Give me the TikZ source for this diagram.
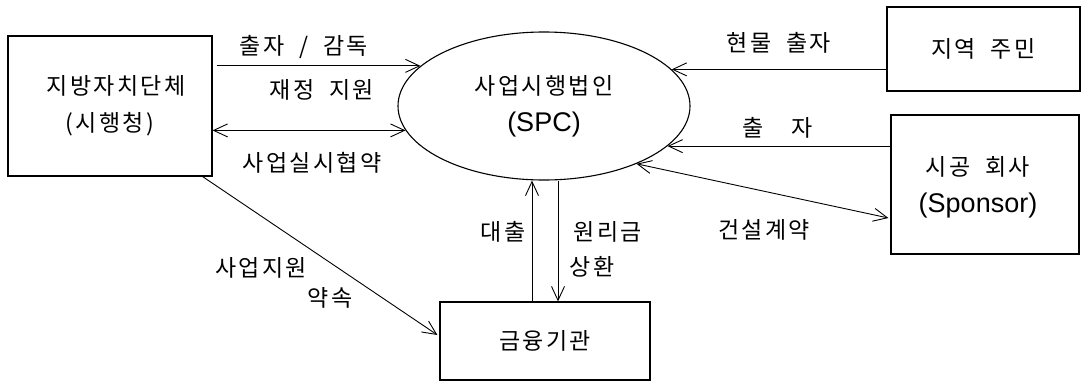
\documentclass[tikz,border=0pt]{standalone}
\usepackage{fontspec}
\setmainfont{Noto Sans CJK KR}[LetterSpace=10,WordSpace=2]
\newfontfamily\latf{Liberation Sans}
\usetikzlibrary{arrows.meta,shapes.geometric}
\newcommand\kf{\fontsize{23pt}{37pt}\selectfont}
\newcommand\lf{\latf\fontsize{27pt}{37pt}\selectfont}
\tikzset{
  box/.style={draw, line width=1.1pt, inner sep=0pt, align=center, font=\kf},
  ell/.style={draw, ellipse, line width=1.1pt, inner sep=0pt, align=center, font=\kf},
  lbl/.style={inner sep=0pt, font=\kf},
  tip/.tip={Straight Barb[length=14pt,width=13pt,line width=0.9pt]},
  arr/.style={line width=0.9pt, -tip},
  darr/.style={line width=0.9pt, tip-tip},
}
\begin{document}
\begin{tikzpicture}[x=1pt,y=-1pt]
\useasboundingbox (0,0) rectangle (1082,383);
% nodes
\node[box, minimum width=204pt, minimum height=140pt] (L) at (110,106) {\hspace*{12pt}지방자치단체\\(시행청)};
\node[ell, minimum width=292pt, minimum height=148pt] (S) at (544,106) {사업시행법인\\{\lf (SPC)}};
\node[box, minimum width=193pt, minimum height=84pt] (R) at (983.5,49) {지역 주민};
\node[box, minimum width=188pt, minimum height=139pt, text depth=0pt] (C) at (985,184.5) {시공 회사\hspace*{14pt}\\{\lf (Sponsor)}\hspace*{14pt}};
\node[box, minimum width=210pt, minimum height=78pt] (B) at (545,341) {금융기관};
% connectors
\draw[arr, shorten <=4pt] (L.east |- S.162.5) -- (S.162.5);
\draw[darr] (L.east |- S.190.8) -- (S.190.8);
\draw[arr] (R.west |- S.16.3) -- (S.16.3);
\draw[arr] (C.west |- S.342.5) -- (S.342.5);
\coordinate (c1) at ([shift={(-2pt,-33.5pt)}]C.west);
\draw[darr] (S.328) -- (c1);
\coordinate (b1) at ([xshift=-13pt]B.north);
\coordinate (b2) at ([xshift=13pt]B.north);
\draw[arr] (b1) -- (b1 |- S.south);
\draw[arr] (b2 |- S.south) -- (b2);
\coordinate (d1) at ([xshift=-10pt]L.south east);
\coordinate (d2) at ([shift={(-2pt,6pt)}]B.west);
\draw[arr] (d1) -- (d2);
% labels
\node[lbl] (t1) at (304,47) {출자 / 감독};
\node[lbl] (t2) at (322,90) {재정 지원};
\node[lbl] (t3) at (312,163) {사업실시협약};
\node[lbl] (t4) at (779,43) {현물 출자};
\node[lbl] (t5) at (778,128) {출\hspace{28pt}자};
\node[lbl] (t6) at (764,230) {건설계약};
\node[lbl] (t7) at (261,268) {사업지원};
\node[lbl] (t8) at (330,298) {약속};
\node[lbl] (t9) at (503,232) {대출};
\node[lbl] (t10) at (608,232) {원리금};
\node[lbl] (t11) at (592,267) {상환};
\end{tikzpicture}
\end{document}
